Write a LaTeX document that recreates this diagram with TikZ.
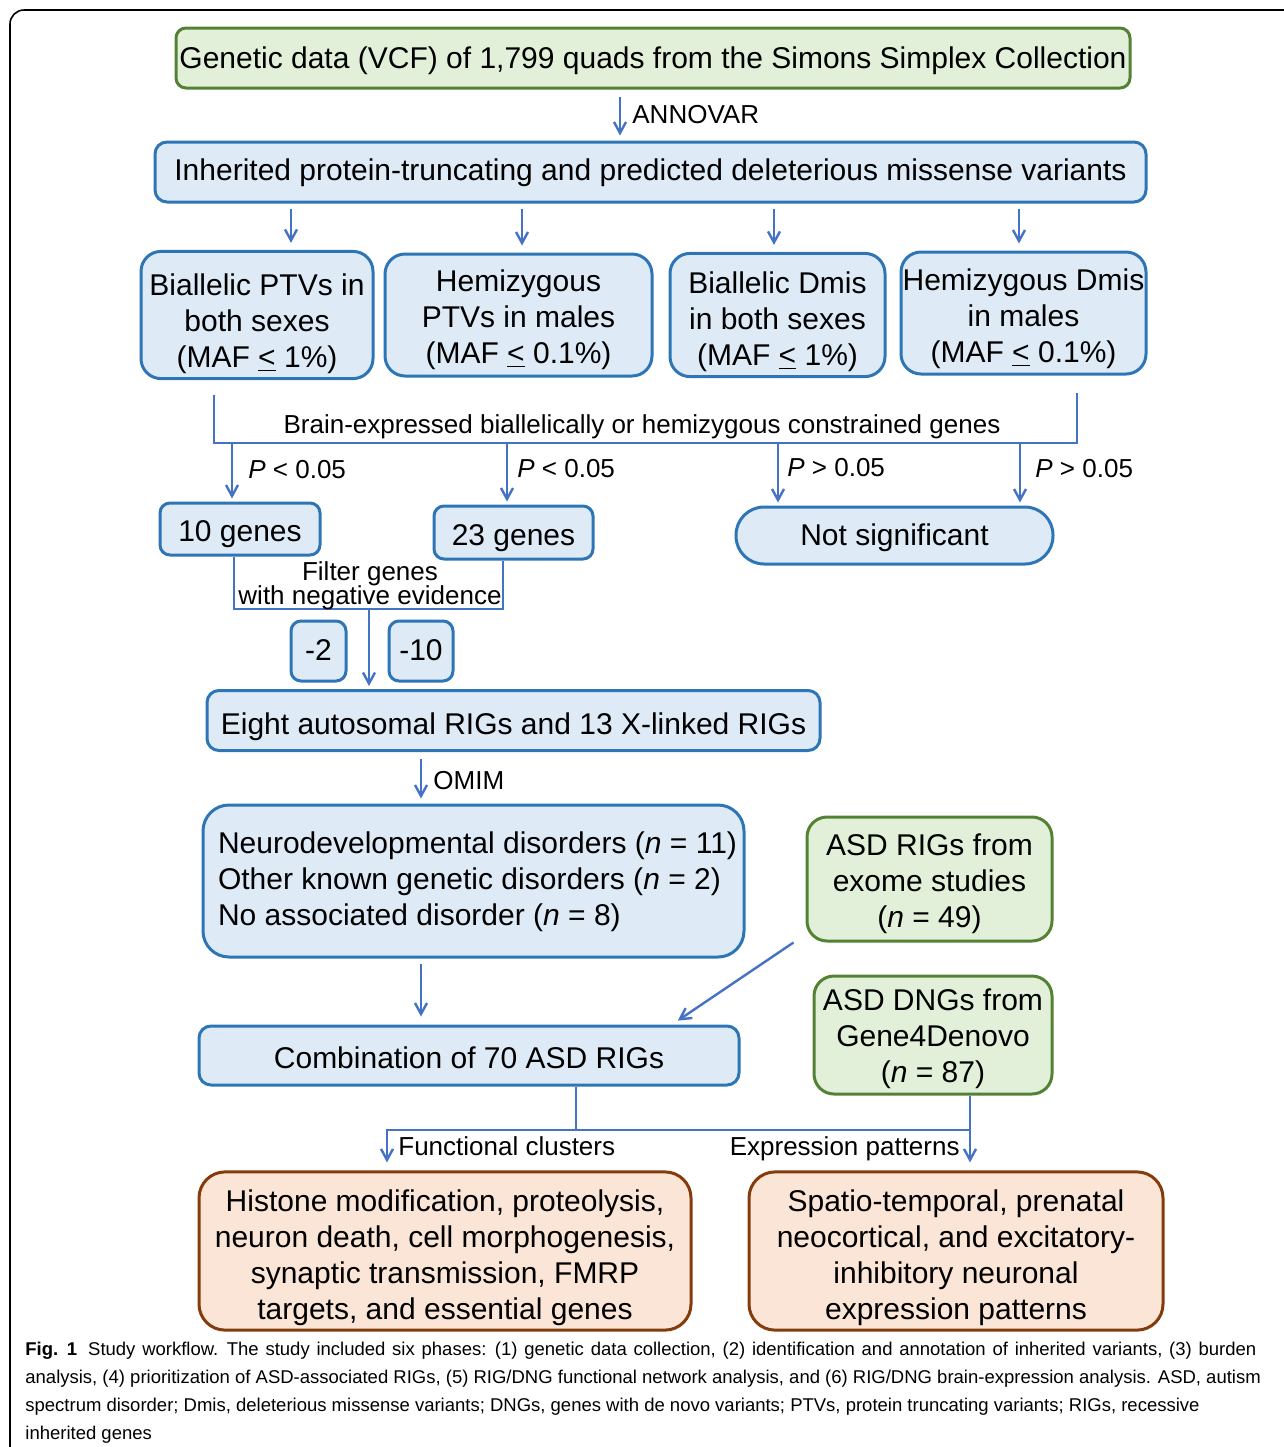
\documentclass[tikz,border=0pt]{standalone}
\usepackage{fontspec}
\setmainfont{Liberation Sans}
\usetikzlibrary{arrows.meta,positioning,calc}
\definecolor{boxblue}{RGB}{46,117,182}
\definecolor{boxfill}{RGB}{222,235,247}
\definecolor{arrowblue}{RGB}{68,114,196}
\definecolor{grnline}{RGB}{84,130,53}
\definecolor{grnfill}{RGB}{226,240,217}
\definecolor{orgline}{RGB}{132,60,12}
\definecolor{orgfill}{RGB}{251,229,214}
\newcommand{\boxtext}[1]{\begin{tabular}[t]{@{}c@{}}#1\end{tabular}}

\begin{document}
\begin{tikzpicture}[x=0.5pt,y=-0.5pt,
    arr/.style={draw=arrowblue,line width=1.2pt,-{Straight Barb[length=5.5pt,width=6pt]}},
    bracket/.style={draw=arrowblue,line width=1.2pt},
    box/.style={draw=boxblue,fill=boxfill,line width=1.5pt,inner sep=0pt,font=\fontsize{15}{18}\selectfont},
    greenbox/.style={box,draw=grnline,fill=grnfill},
    orangebox/.style={box,draw=orgline,fill=orgfill},
    ttop/.style={execute at begin node={\rule{0pt}{#1}}},
    lbl/.style={inner sep=0pt,font=\fontsize{13}{15}\selectfont},
    capline/.style={inner sep=0pt,anchor=base west,font=\fontsize{9.25}{14}\selectfont}]

    \useasboundingbox (0,0) rectangle (1284,1447);
    \draw[line width=0.8pt,rounded corners=7pt] (10,1460) -- (10,10) -- (1300,10);

    \node[greenbox,ttop=16.2pt,rounded corners=5pt,minimum width=477pt,minimum height=30pt] (gen) at (653,58)
        {\boxtext{Genetic data (VCF) of 1,799 quads from the Simons Simplex Collection}};
    \node[box,ttop=14.2pt,rounded corners=6pt,minimum width=495.5pt,minimum height=30pt] (inh) at (650.5,172)
        {\boxtext{Inherited protein-truncating and predicted deleterious missense variants}};

    \node[box,ttop=22.2pt,rounded corners=10pt,minimum width=116pt,minimum height=61pt] (bptv) at (257,315)
        {\boxtext{Biallelic PTVs in\\both sexes\\(MAF \underline{<} 1\%)}};
    \node[box,ttop=17.7pt,rounded corners=10pt,minimum width=133.5pt,minimum height=61pt] (hptv) at (518.5,315)
        {\boxtext{Hemizygous\\PTVs in males\\(MAF \underline{<} 0.1\%)}};
    \node[box,ttop=20.2pt,rounded corners=10pt,minimum width=107.5pt,minimum height=61pt] (bdmis) at (777.5,315)
        {\boxtext{Biallelic Dmis\\in both sexes\\(MAF \underline{<} 1\%)}};
    \node[box,ttop=19.2pt,rounded corners=10pt,minimum width=122.5pt,minimum height=61pt] (hdmis) at (1023.5,313)
        {\boxtext{Hemizygous Dmis\\in males\\(MAF \underline{<} 0.1\%)}};

    \node[box,ttop=18.2pt,rounded corners=5pt,minimum width=80pt,minimum height=26pt] (ten) at (240,529) {\boxtext{10 genes}};
    \node[box,ttop=18pt,rounded corners=5pt,minimum width=79.5pt,minimum height=26.5pt] (twentythree) at (513.5,532.5) {\boxtext{23 genes}};
    \node[box,ttop=14.9pt,rounded corners=14pt,minimum width=158.5pt,minimum height=28.5pt] (notsig) at (894.5,535.5) {\boxtext{Not significant}};

    \node[box,ttop=15.2pt,rounded corners=5pt,minimum width=27.5pt,minimum height=30pt] (minustwo) at (318.5,651) {\boxtext{-2}};
    \node[box,ttop=15.2pt,rounded corners=5pt,minimum width=32pt,minimum height=30pt] (minusten) at (421,651) {\boxtext{-10}};

    \node[box,ttop=18.9pt,rounded corners=6pt,minimum width=306.5pt,minimum height=30pt] (eight) at (513.5,720.5)
        {\boxtext{Eight autosomal RIGs and 13 X-linked RIGs}};
    \node[box,ttop=13.9pt,rounded corners=13pt,minimum width=270.5pt,minimum height=76pt] (neuro) at (473.5,881)
        {\begin{tabular}[t]{@{\hspace{4pt}}l@{}}Neurodevelopmental disorders (\textit{n} = 11)\\Other known genetic disorders (\textit{n} = 2)\\No associated disorder (\textit{n} = 8)\end{tabular}};
    \node[greenbox,ttop=17.8pt,rounded corners=10pt,minimum width=122.5pt,minimum height=62pt] (rigs) at (929.5,879)
        {\boxtext{ASD RIGs from\\exome studies\\(\textit{n} = 49)}};
    \node[greenbox,ttop=16.9pt,rounded corners=10pt,minimum width=119pt,minimum height=59pt] (dngs) at (933,1035)
        {\boxtext{ASD DNGs from\\Gene4Denovo\\(\textit{n} = 87)}};
    \node[box,ttop=17.9pt,rounded corners=6pt,minimum width=270pt,minimum height=29.5pt] (comb) at (469,1055.5)
        {\boxtext{Combination of 70 ASD RIGs}};

    \node[orangebox,ttop=19.7pt,rounded corners=13pt,minimum width=246pt,minimum height=77pt] (func) at (445,1251)
        {\boxtext{Histone modification, proteolysis,\\neuron death, cell morphogenesis,\\synaptic transmission, FMRP\\targets, and essential genes}};
    \node[orangebox,ttop=19.7pt,rounded corners=13pt,minimum width=207pt,minimum height=77pt] (expr) at (956,1251)
        {\boxtext{Spatio-temporal, prenatal\\neocortical, and excitatory-\\inhibitory neuronal\\expression patterns}};

    \coordinate (annx) at (620,0);
    \draw[arr,shorten <=3.5pt,shorten >=2.5pt] (gen.south -| annx) -- (inh.north -| annx);
    \node[lbl,anchor=base west] (annovar) at (632,123) {ANNOVAR};

    \foreach \nm/\xx in {bptv/291,hptv/522,bdmis/774,hdmis/1019}{
        \coordinate (c\nm) at (\xx,0);
        \draw[arr,shorten <=2.5pt,shorten >=3.5pt] (inh.south -| c\nm) -- (\nm.north -| c\nm);
    }

    \coordinate (brtl) at (214,395);
    \coordinate (brbl) at (214,443);
    \coordinate (brbr) at (1077,443);
    \coordinate (brtr) at (1077,393);
    \draw[bracket] (brtl) -- (brbl) -- (brbr) -- (brtr);
    \node[lbl,anchor=base] (brain) at (642,433) {Brain-expressed biallelically or hemizygous constrained genes};

    \foreach \nm/\xx/\lx/\ly/\tx in {ten/232/248/478/{<},twentythree/507/517/477/{<},notsig/778/787/476/{>}}{
        \coordinate (p\nm) at (\xx,443);
        \draw[arr,shorten >=1.5pt] (p\nm) -- (\nm.north -| p\nm);
        \node[lbl,anchor=base west] (l\nm) at (\lx,\ly) {\textit{P} \tx{} 0.05};
    }
    \coordinate (pnotsigb) at (1020,443);
    \draw[arr,shorten >=1.5pt] (pnotsigb) -- (notsig.north -| pnotsigb);
    \node[lbl,anchor=base west] (lnotsigb) at (1035,477) {\textit{P} > 0.05};

    \coordinate (filtl) at (234,609);
    \coordinate (filtr) at (503,609);
    \coordinate (filtm) at (369,609);
    \draw[bracket] (ten.south -| filtl) -- (filtl) -- (filtr) -- (twentythree.south -| filtr);
    \draw[arr,shorten >=1.5pt] (filtm) -- (eight.north -| filtm);
    \node[lbl,anchor=base] (filtera) at (370,580) {Filter genes};
    \node[lbl,anchor=base] (filterb) at (370,604) {with negative evidence};

    \coordinate (omimx) at (421,0);
    \draw[arr,shorten <=3.5pt,shorten >=2.5pt] (eight.south -| omimx) -- (neuro.north -| omimx);
    \node[lbl,anchor=base west] (omim) at (433,789) {OMIM};
    \draw[arr,shorten <=2.5pt,shorten >=4pt] (neuro.south -| omimx) -- (comb.north -| omimx);

    \coordinate (diagx) at (672,0);
    \draw[arr,shorten >=3.5pt] ([xshift=-6pt]rigs.south west) -- (comb.north -| diagx);

    \coordinate (split) at (576,1130);
    \coordinate (lft) at (387,1130);
    \coordinate (rgt) at (970,1130);
    \draw[bracket] (comb.south -| split) -- (split);
    \draw[arr,shorten >=4pt] (rgt) -- (lft) -- (func.north -| lft);
    \draw[arr,shorten >=4pt] (dngs.south -| rgt) -- (expr.north -| rgt);
    \node[lbl,anchor=base west] (funclbl) at (398,1155) {Functional clusters};
    \node[lbl,anchor=base east] (exprlbl) at (960,1155) {Expression patterns};

    \node[capline] (cap1) at (25,1355) {\spaceskip=3.4pt\textbf{Fig. 1}\hspace{0.6em}Study workflow. The study included six phases: (1) genetic data collection, (2) identification and annotation of inherited variants, (3) burden};
    \node[capline] (cap2) at (25,1383) {analysis, (4) prioritization of ASD-associated RIGs, (5) RIG/DNG functional network analysis, and (6) RIG/DNG brain-expression analysis. ASD, autism};
    \node[capline] (cap3) at (25,1411) {spectrum disorder; Dmis, deleterious missense variants; DNGs, genes with de novo variants; PTVs, protein truncating variants; RIGs, recessive};
    \node[capline] (cap4) at (25,1439) {inherited genes};

\end{tikzpicture}
\end{document}
